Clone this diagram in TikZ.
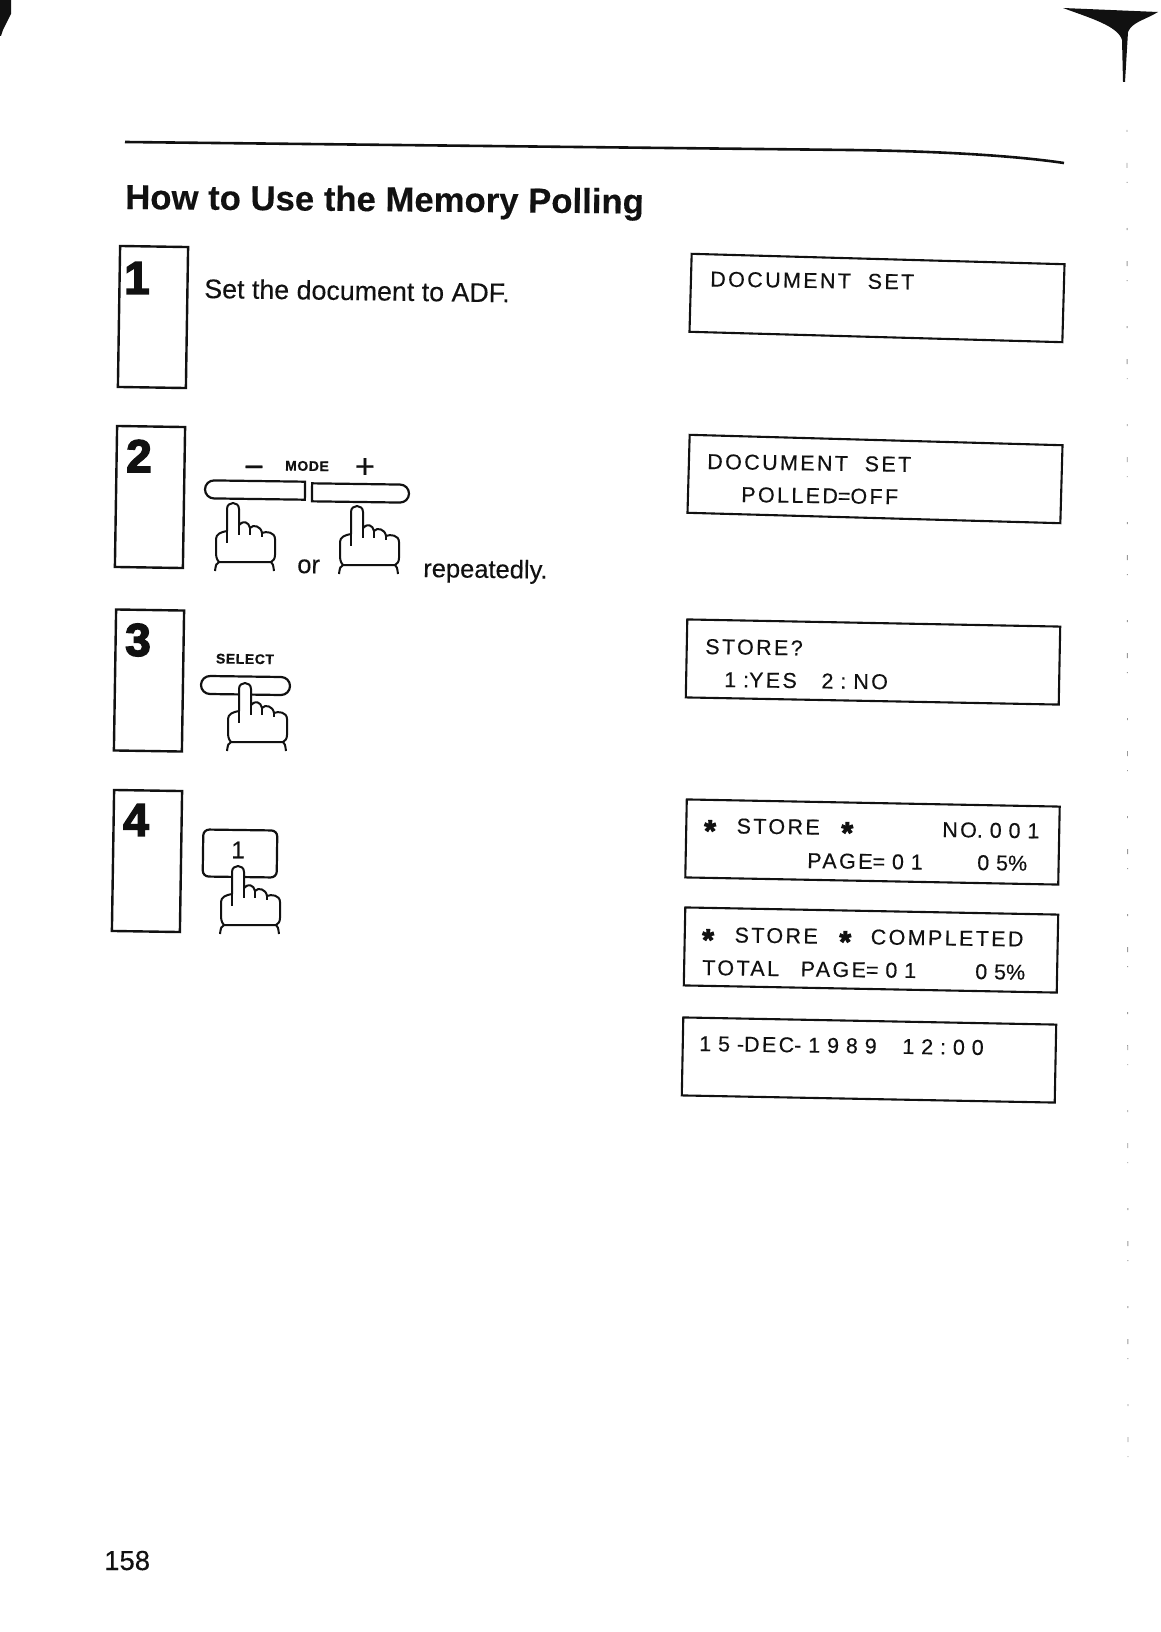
\documentclass[tikz,border=0pt]{standalone}
\usepackage{fontspec}
\usepackage{xcolor}
\usetikzlibrary{shapes.misc}
\setmainfont[FakeBold=0.25]{Liberation Sans}
\newfontfamily\lcdfont[LetterSpace=11,WordSpace=2.0,FakeBold=0.35]{Liberation Sans}
\newfontfamily\lcdnum[LetterSpace=32,WordSpace=2.0,FakeBold=0.35]{Liberation Sans}
\newfontfamily\digitfont[FakeBold=3.2]{Liberation Sans Bold}
\newfontfamily\lblfont[FakeBold=0.8,LetterSpace=4]{Liberation Sans Bold}
\newcommand{\lcdstar}{\raisebox{-8pt}{\digitfont\fontsize{30}{30}\selectfont *}}
\definecolor{inkblack}{HTML}{111111}
\definecolor{scangray}{HTML}{9A9A9A}

\begin{document}
\begin{tikzpicture}[
  x=1pt, y=-1pt, inkblack,
  every node/.style={inner sep=0pt, text=inkblack},
  stepbox/.style={draw=inkblack, line width=2.4pt, minimum width=68pt, minimum height=141pt, rotate=-0.9},
  lcd/.style={draw=inkblack, line width=2.1pt, minimum width=373pt, minimum height=78pt, rotate=-1.1},
  num/.style={font=\digitfont\fontsize{46}{50}\selectfont},
  tx/.style={font=\fontsize{25.5}{30}\selectfont, anchor=base west, rotate=-0.8},
  lt/.style={font=\lcdfont\fontsize{21.5}{25}\selectfont, anchor=base west, rotate=-0.8},
  lbl/.style={font=\lblfont\fontsize{14}{16}\selectfont, rotate=-0.8},
  btn/.style={draw=inkblack, line width=2.2pt, rounded rectangle, minimum height=18pt, rotate=-0.8},
  hand/.pic={
    \path[fill=white, draw=inkblack, line width=2pt, line join=round]
      (-6,28) -- (-6,6) .. controls (-6,-2) and (6,-2) .. (6,6) -- (6,22)
      .. controls (10,17) and (16,19) .. (17,25)
      .. controls (20,21) and (28,23) .. (29,30)
      .. controls (33,28) and (42,29) .. (42,36) -- (42,52)
      .. controls (42,56) and (40,58) .. (38,59) -- (-14,59)
      .. controls (-17,56) and (-17,52) .. (-17,48) -- (-17,36)
      .. controls (-17,31) and (-12,29) .. (-6,28) -- cycle;
    \draw[line width=2pt] (-6,28) -- (-6,40) (6,22) -- (6,32) (17,25) -- (17,32) (29,30) -- (29,34);
    \draw[line width=2pt] (-14,59) .. controls (-17,61) .. (-18,68) (38,59) .. controls (40,61) .. (41,68);
  }
]
  \useasboundingbox (0,0) rectangle (1161,1632);

  \fill (0,0) -- (11,0) -- (11,14) -- (7,22) -- (3,30) -- (1,36) -- (0,36) -- cycle;
  \fill (1063,8) -- (1158,12) .. controls (1145,20) and (1132,22) .. (1128,32)
    -- (1125,82) -- (1123,82) -- (1122,40) .. controls (1118,26) and (1090,18) .. (1063,8) -- cycle;
  \draw[scangray, line width=0.9pt, dash pattern=on 2pt off 31pt on 5pt off 14pt on 1pt off 45pt] (1127,130) -- (1128,1470);
  \draw[line width=2.6pt] (125,142) -- (850,150) .. controls (930,151) and (1010,155) .. (1064,163);

  \node[font=\bfseries\fontsize{34.7}{38}\selectfont, anchor=base west, rotate=-0.5] (title) at (125,209) {How to Use the Memory Polling};

  \node[stepbox] (s1) at (153,317) {};
  \node[stepbox] (s2) at (150,497) {};
  \node[stepbox] (s3) at (149,680.5) {};
  \node[stepbox] (s4) at (147,861) {};
  \node[num] (n1) at (137,278) {1};
  \node[num] (n2) at (139,456) {2};
  \node[num] (n3) at (138,640) {3};
  \node[num] (n4) at (136,820) {4};

  \node[tx, font=\fontsize{26.8}{30}\selectfont] (t1) at (204,298) {Set the document to ADF.};

  \node[lbl] (mode) at (307,466) {MODE};
  \node[font=\fontsize{34}{34}\selectfont] (minus) at (254,472) {−};
  \node[font=\fontsize{34}{34}\selectfont] (plus) at (365,468) {+};
  \node[btn, rounded rectangle right arc=none, minimum width=100pt] (bm) at (255,490) {};
  \node[btn, rounded rectangle left arc=none, minimum width=97pt] (bp) at (360.5,493) {};
  \pic (h1) at (233,503) {hand};
  \pic (h2) at (357,506) {hand};
  \node[tx] (or) at (297,573) {or};
  \node[tx] (rep) at (423,577) {repeatedly.};

  \node[lbl] (sel) at (245,659) {SELECT};
  \node[btn, minimum width=89pt] (bs) at (245.5,685.5) {};
  \pic (h3) at (245,683) {hand};

  \node[draw=inkblack, line width=2.2pt, rounded corners=6pt, minimum width=74pt, minimum height=47pt, rotate=-0.8] (k1) at (240,853.5) {};
  \node[font=\fontsize{24}{26}\selectfont] (k1t) at (238,850) {1};
  \pic (h4) at (238,866) {hand};

  \node[lcd, rotate=-0.5] (d1) at (877,298) {};
  \node[lcd, rotate=-0.5] (d2) at (875,479) {};
  \node[lcd] (d3) at (873,662) {};
  \node[lcd] (d4) at (872.5,842) {};
  \node[lcd] (d5) at (871,950) {};
  \node[lcd] (d6) at (869,1060) {};

  \node[lt] (d1a) at (710,286.5) {DOCUMENT SET};
  \node[lt] (d2a) at (707,469) {DOCUMENT SET};
  \node[lt] (d2b) at (741,502) {POLLED{\lcdnum =}OFF};
  \node[lt] (d3a) at (705,654) {STORE?};
  \node[lt] (d3b) at (724,687) {{\lcdnum 1:}YES\kern8pt{} {\lcdnum 2:}\kern7pt NO};
  \node[lt] (d4a) at (704,833) {\lcdstar\kern4pt{} STORE\kern5pt{} \lcdstar};
  \node[lt] (d4b) at (942,837) {NO{\lcdnum .001}};
  \node[lt] (d4c) at (807,868) {PAGE{\lcdnum =01}};
  \node[lt] (d4d) at (977,870) {{\lcdnum 05}\%};
  \node[lt] (d5a) at (702,942) {\lcdstar\kern4pt{} STORE\kern5pt{} \lcdstar\kern3pt{} COMPLETED};
  \node[lt] (d5b) at (702,975) {TOTAL\kern5pt{} PAGE{\lcdnum =01}};
  \node[lt] (d5c) at (975,979) {{\lcdnum 05}\%};
  \node[lt] (d6a) at (699,1051) {{\lcdnum 15-}DEC{\lcdnum -1989 12:00}};

  \node[font=\fontsize{27.5}{30}\selectfont, anchor=base west] (pg) at (104,1570) {158};
\end{tikzpicture}
\end{document}
